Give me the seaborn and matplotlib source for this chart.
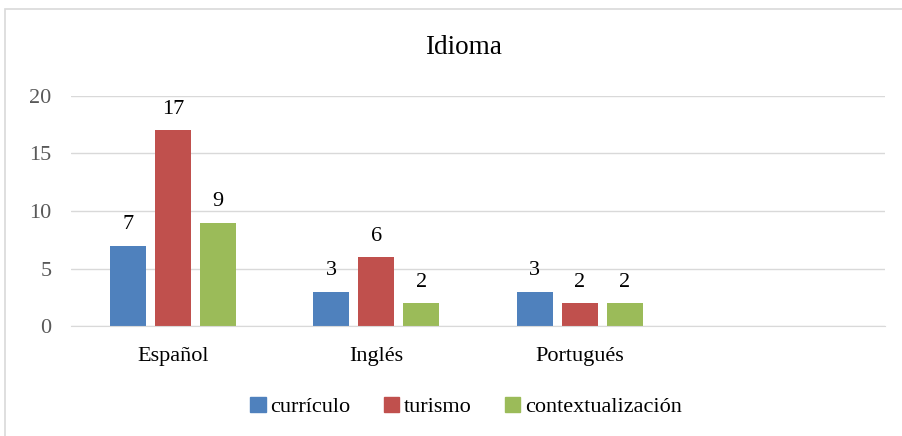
import pandas as pd
import seaborn as sns
import matplotlib.pyplot as plt
from matplotlib.patches import Rectangle

# data
idiomas = ['Español', 'Inglés', 'Portugués']
curriculo = [7, 3, 3]
turismo = [17, 6, 2]
contextualizacion = [9, 2, 2]
series = ['currículo', 'turismo', 'contextualización']
colors = ['#4F81BD', '#C0504D', '#9BBB59']

df = pd.DataFrame({
    'idioma': idiomas * 3,
    'serie': [s for s in series for _ in idiomas],
    'valor': curriculo + turismo + contextualizacion,
})

sns.set_style('white')
plt.rcParams['font.family'] = ['Liberation Serif', 'DejaVu Serif']
plt.rcParams['text.color'] = 'black'

fig = plt.figure(figsize=(9.03, 4.36), dpi=100)
ax = fig.add_axes([71 / 903, 1 - 326 / 436, 814 / 903, 230 / 436])

# outer chart frame
fig.patches.append(Rectangle((5 / 903, -0.1), 1.2, 1 - 9 / 436 + 0.1, transform=fig.transFigure,
                             fill=False, edgecolor='#D9D9D9', lw=1.2))

order = idiomas + [' ']
sns.barplot(data=df, x='idioma', y='valor', hue='serie', order=order, hue_order=series,
            palette=colors, width=0.663, gap=0.2, saturation=1, linewidth=0,
            ax=ax, legend=False)

for c in ax.containers:
    ax.bar_label(c, fmt='%d', padding=8, fontsize=16, color='black')

ax.set_xlim(-0.5, 3.5)
ax.set_ylim(0, 20)
ax.set_yticks([0, 5, 10, 15, 20])
ax.yaxis.grid(True, color='#D9D9D9', lw=1)
ax.set_axisbelow(True)
for s in ['top', 'right', 'left']:
    ax.spines[s].set_visible(False)
ax.spines['bottom'].set_color('#D9D9D9')
ax.tick_params(axis='y', labelsize=16, labelcolor='#595959', pad=14, length=0)
ax.tick_params(axis='x', labelsize=16, labelcolor='black', pad=15, length=0)
ax.set_xlabel('')
ax.set_ylabel('')

fig.text(463 / 903, 1 - 48 / 436, 'Idioma', ha='center', va='center', fontsize=19.5, color='black')

handles = [Rectangle((0, 0), 1, 1, color=c) for c in colors]
fig.legend(handles, series, loc='center', bbox_to_anchor=(466 / 903, 1 - 407 / 436), ncol=3,
           frameon=False, fontsize=16, handlelength=0.7, handleheight=0.7, handletextpad=0.2,
           columnspacing=1.5)

fig.savefig('out.png', dpi=100)
